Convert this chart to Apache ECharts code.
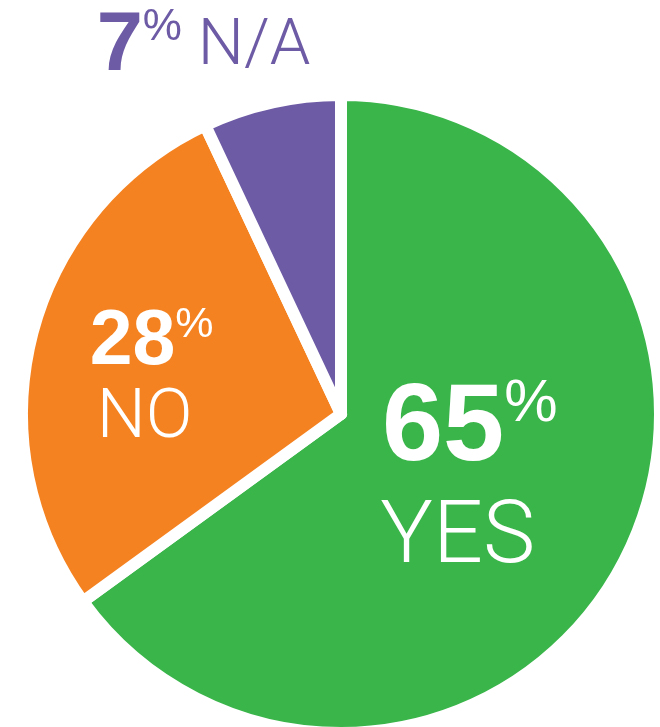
<!DOCTYPE html>
<html>
<head>
<meta charset="utf-8">
<script src="https://cdn.jsdelivr.net/npm/echarts@6/dist/echarts.min.js"></script>
<style>
  html, body { margin: 0; padding: 0; background: #ffffff; }
  #chart { width: 660px; height: 727px; }
</style>
</head>
<body>
<div id="chart"></div>
<script>
// Survey answers, share of respondents (%)
const categories = ['YES', 'NO', 'N/A'];
const shares = [65, 28, 7];
const sliceColors = ['#39B54A', '#F58220', '#6E5BA6'];

const BOLD = '"Liberation Sans", Arial, Helvetica, sans-serif';
const LIGHT = 'Roboto, "Liberation Sans", sans-serif';

// Per-slice label styling: big bold number, raised percent sign, light caption
const labelStyles = [
  {
    formatter: p => '{num|' + p.value + '}{pct|%}\n{cap|' + p.name + '}',
    color: '#ffffff',
    rich: {
      num: { fontFamily: BOLD, fontWeight: 'bold', fontSize: 110, lineHeight: 110, color: '#fff' },
      pct: { fontFamily: BOLD, fontWeight: 'normal', fontSize: 60, lineHeight: 76, verticalAlign: 'top', color: '#fff' },
      cap: { fontFamily: LIGHT, fontWeight: 300, fontSize: 88, lineHeight: 110, color: '#fff', padding: [0, 24, 0, 0] }
    },
    shift: [-16, -3]
  },
  {
    formatter: p => '{num|' + p.value + '}{pct|%}\n{cap|' + p.name + '}',
    color: '#ffffff',
    rich: {
      num: { fontFamily: BOLD, fontWeight: 'bold', fontSize: 77, lineHeight: 77, color: '#fff' },
      pct: { fontFamily: BOLD, fontWeight: 'normal', fontSize: 43, lineHeight: 48, verticalAlign: 'top', color: '#fff' },
      cap: { fontFamily: LIGHT, fontWeight: 300, fontSize: 69, lineHeight: 78, color: '#fff', padding: [0, 14, 0, 0] }
    },
    shift: [-32, 8]
  },
  {
    formatter: p => '{num|' + p.value + '}{pct|%}{cap| ' + p.name + '}',
    color: '#6E5BA6',
    rich: {
      num: { fontFamily: BOLD, fontWeight: 'bold', fontSize: 83, lineHeight: 83, color: '#6E5BA6' },
      pct: { fontFamily: BOLD, fontWeight: 'normal', fontSize: 44, lineHeight: 56, verticalAlign: 'top', color: '#6E5BA6' },
      cap: { fontFamily: LIGHT, fontWeight: 300, fontSize: 65, lineHeight: 83, color: '#6E5BA6' }
    },
    shift: [-102, -208]
  }
];

const chart = echarts.init(document.getElementById('chart'), null, { renderer: 'canvas' });

chart.setOption({
  animation: false,
  backgroundColor: '#ffffff',
  series: [{
    type: 'pie',
    center: [341, 414],
    radius: [0, 319],
    startAngle: 90,
    clockwise: true,
    silent: true,
    itemStyle: { borderColor: '#ffffff', borderWidth: 12 },
    label: { show: true, position: 'inside' },
    labelLine: { show: false },
    labelLayout: p => ({ dx: labelStyles[p.dataIndex].shift[0], dy: labelStyles[p.dataIndex].shift[1] }),
    data: categories.map((name, i) => ({
      name: name,
      value: shares[i],
      itemStyle: { color: sliceColors[i] },
      label: {
        formatter: labelStyles[i].formatter,
        color: labelStyles[i].color,
        rich: labelStyles[i].rich
      }
    }))
  }]
});
</script>
</body>
</html>
